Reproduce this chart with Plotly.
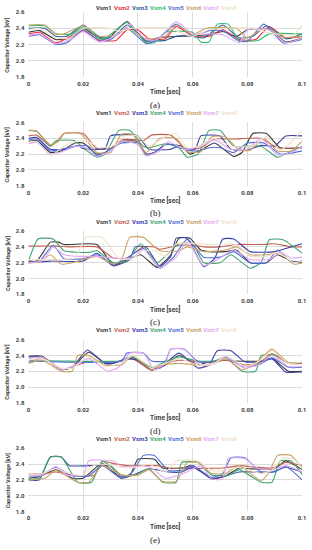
import plotly.graph_objects as go

W, H = 312, 550

names = ["Vsm1", "Vsm2", "Vsm3", "Vsm4", "Vsm5", "Vsm6", "Vsm7", "Vsm8"]
colors_a = ["#383838", "#ec2c3c", "#2e6096", "#2ebd6b", "#5b6fd0", "#c9a467", "#e2a8f5", "#efe2c8"]
colors_b = ["#383838", "#c4604f", "#3b40a8", "#40a470", "#4f6fd8", "#c9a467", "#e2a8f5", "#efe2c8"]
panel_labels = ["(a)", "(b)", "(c)", "(d)", "(e)"]
x_tickvals = [0, 0.02, 0.04, 0.06, 0.08, 0.1]
x_ticktext = ["0", "0.02", "0.04", "0.06", "0.08", "0.1"]
y_tickvals = [1.8, 2.0, 2.2, 2.4, 2.6]
y_ticktext = ["1.8", "2.0", "2.2", "2.4", "2.6"]

# ---- panel (a): (time in ms, voltage in kV)
a_vsm1 = [(0,2.35),(4,2.37),(10,2.26),(15,2.28),(20,2.40),(26,2.27),(29,2.27),(36,2.48),(43,2.23),(47,2.28),(54,2.30),(60,2.31),(66,2.32),(71,2.36),(76,2.30),(80,2.38),(88,2.39),(94,2.23),(100,2.28)]
a_vsm2 = [(0,2.33),(4,2.35),(10,2.22),(20,2.37),(26,2.25),(32,2.25),(36,2.38),(40,2.38),(44,2.27),(50,2.27),(54,2.42),(60,2.30),(66,2.30),(71,2.38),(77,2.26),(83,2.26),(88,2.42),(94,2.28),(100,2.30)]
a_vsm3 = [(0,2.40),(6,2.40),(10,2.30),(14,2.30),(20,2.44),(26,2.29),(31,2.29),(36,2.44),(43,2.25),(50,2.25),(54,2.30),(60,2.30),(64,2.28),(71,2.44),(77,2.28),(82,2.30),(87,2.43),(94,2.27),(100,2.33)]
a_vsm4 = [(0,2.43),(6,2.43),(10,2.33),(16,2.33),(20,2.42),(26,2.27),(28,2.27),(36,2.47),(43,2.22),(46,2.22),(50,2.35),(60,2.35),(63,2.23),(66,2.23),(69,2.45),(73,2.45),(77,2.25),(84,2.25),(88,2.33),(100,2.33)]
a_vsm5 = [(0,2.30),(4,2.32),(10,2.20),(14,2.22),(20,2.38),(26,2.24),(30,2.26),(36,2.40),(43,2.21),(47,2.26),(54,2.45),(60,2.31),(66,2.37),(71,2.37),(77,2.24),(80,2.24),(86,2.45),(93,2.22),(100,2.26)]
a_vsm6 = [(0,2.44),(6,2.44),(10,2.33),(13,2.33),(20,2.43),(26,2.30),(32,2.32),(36,2.40),(43,2.27),(50,2.30),(54,2.44),(60,2.32),(65,2.40),(76,2.40),(80,2.28),(86,2.40),(93,2.29),(100,2.30)]
a_vsm7 = [(0,2.31),(4,2.33),(10,2.21),(16,2.27),(20,2.36),(26,2.23),(34,2.35),(37,2.45),(43,2.26),(47,2.26),(54,2.48),(60,2.33),(66,2.33),(71,2.32),(77,2.22),(80,2.38),(88,2.38),(94,2.22),(100,2.28)]
a_vsm8 = [(0,2.38),(4,2.40),(10,2.28),(15,2.28),(20,2.40),(30,2.40),(33,2.36),(38,2.40),(52,2.40),(56,2.34),(60,2.30),(66,2.38),(73,2.40),(82,2.40),(88,2.34),(94,2.32),(97,2.32),(100,2.44)]

# ---- panel (b)
b_vsm1 = [(0,2.36),(3,2.37),(8,2.22),(12,2.24),(17,2.34),(20,2.34),(25,2.20),(28,2.22),(34,2.36),(40,2.36),(43,2.20),(46,2.22),(50,2.32),(56,2.30),(59,2.20),(63,2.25),(68,2.34),(75,2.17),(78,2.22),(82,2.46),(87,2.46),(92,2.28),(100,2.28)]
b_vsm2 = [(0,2.43),(3,2.44),(8,2.30),(11,2.38),(13,2.46),(20,2.46),(25,2.27),(30,2.27),(34,2.38),(40,2.38),(42,2.37),(45,2.44),(52,2.44),(58,2.25),(63,2.28),(68,2.39),(75,2.39),(80,2.40),(85,2.40),(91,2.28),(100,2.28)]
b_vsm3 = [(0,2.40),(3,2.41),(8,2.26),(14,2.26),(18,2.31),(20,2.27),(28,2.27),(30,2.43),(40,2.43),(44,2.26),(52,2.26),(54,2.29),(56,2.27),(61,2.27),(63,2.43),(70,2.43),(74,2.26),(81,2.26),(85,2.31),(90,2.30),(94,2.43),(100,2.43)]
b_vsm4 = [(0,2.50),(3,2.49),(8,2.30),(10,2.37),(17,2.37),(21,2.25),(25,2.16),(28,2.20),(33,2.50),(37,2.50),(42,2.30),(44,2.28),(50,2.33),(55,2.28),(58,2.16),(62,2.20),(66,2.50),(70,2.50),(75,2.30),(85,2.30),(91,2.16),(95,2.22),(100,2.30)]
b_vsm5 = [(0,2.38),(3,2.39),(8,2.24),(12,2.26),(17,2.30),(22,2.30),(25,2.18),(28,2.22),(34,2.34),(40,2.34),(43,2.18),(46,2.22),(51,2.33),(58,2.25),(62,2.24),(66,2.28),(70,2.28),(75,2.22),(80,2.34),(86,2.34),(92,2.20),(100,2.24)]
b_vsm6 = [(0,2.50),(3,2.49),(8,2.32),(11,2.36),(13,2.46),(19,2.46),(25,2.22),(30,2.22),(34,2.45),(38,2.45),(43,2.22),(48,2.40),(54,2.40),(58,2.23),(63,2.23),(67,2.42),(72,2.42),(77,2.25),(81,2.25),(86,2.40),(91,2.24),(96,2.24),(100,2.36)]
b_vsm7 = [(0,2.33),(3,2.35),(8,2.20),(13,2.24),(17,2.30),(21,2.28),(25,2.17),(30,2.24),(34,2.36),(40,2.32),(43,2.18),(48,2.24),(51,2.36),(57,2.26),(63,2.30),(68,2.38),(74,2.26),(80,2.26),(85,2.40),(91,2.19),(96,2.22),(100,2.30)]
b_vsm8 = [(0,2.35),(3,2.36),(8,2.18),(13,2.30),(17,2.36),(22,2.36),(26,2.28),(32,2.32),(35,2.43),(40,2.43),(44,2.30),(50,2.42),(54,2.46),(58,2.28),(62,2.30),(68,2.40),(74,2.30),(82,2.30),(87,2.42),(92,2.25),(96,2.35),(100,2.50)]

# ---- panel (c)
c_vsm1 = [(0,2.22),(3,2.22),(8,2.46),(11,2.46),(13,2.43),(25,2.43),(31,2.17),(35,2.22),(41,2.30),(47,2.14),(52,2.30),(55,2.51),(59,2.51),(63,2.36),(66,2.34),(72,2.34),(76,2.36),(81,2.20),(87,2.20),(91,2.30),(96,2.22),(100,2.20)]
c_vsm2 = [(0,2.41),(10,2.41),(15,2.40),(25,2.40),(31,2.26),(36,2.26),(42,2.40),(46,2.40),(48,2.37),(55,2.42),(60,2.42),(64,2.40),(70,2.40),(76,2.43),(86,2.43),(90,2.44),(96,2.40),(100,2.40)]
c_vsm3 = [(0,2.20),(8,2.22),(20,2.22),(25,2.32),(31,2.16),(37,2.24),(39,2.40),(43,2.40),(48,2.15),(52,2.28),(54,2.51),(58,2.51),(64,2.15),(68,2.25),(71,2.50),(75,2.50),(81,2.34),(90,2.34),(94,2.38),(100,2.44)]
c_vsm4 = [(0,2.22),(3.5,2.50),(9,2.50),(13,2.35),(22,2.33),(25,2.35),(31,2.20),(36,2.22),(41,2.44),(47,2.20),(50,2.28),(55,2.44),(60,2.44),(64,2.20),(70,2.20),(74,2.30),(81,2.13),(85,2.20),(88,2.49),(93,2.49),(100,2.32)]
c_vsm5 = [(0,2.20),(4,2.22),(9,2.42),(13,2.25),(20,2.25),(25,2.30),(31,2.18),(36,2.26),(42,2.38),(48,2.13),(53,2.27),(58,2.50),(64,2.27),(70,2.27),(75,2.34),(81,2.20),(87,2.20),(91,2.36),(96,2.21),(100,2.22)]
c_vsm6 = [(0,2.20),(4,2.21),(8,2.30),(12,2.18),(16,2.20),(25,2.28),(31,2.18),(34,2.24),(37,2.52),(42,2.52),(48,2.35),(55,2.35),(58,2.40),(64,2.34),(72,2.36),(76,2.40),(81,2.30),(87,2.30),(92,2.32),(97,2.18),(100,2.20)]
c_vsm7 = [(0,2.20),(5,2.22),(9,2.40),(13,2.30),(18,2.28),(25,2.28),(31,2.26),(38,2.26),(42,2.37),(48,2.14),(54,2.27),(58,2.48),(64,2.16),(70,2.26),(75,2.36),(81,2.24),(88,2.24),(92,2.33),(96,2.26),(100,2.27)]
c_vsm8 = [(0,2.24),(12,2.24),(17,2.26),(21,2.52),(27,2.52),(33,2.25),(38,2.25),(42,2.35),(46,2.35),(50,2.28),(54,2.44),(62,2.44),(66,2.43),(76,2.43),(81,2.28),(87,2.28),(91,2.33),(97,2.20),(100,2.22)]

# ---- panel (d)
d_vsm1 = [(0,2.39),(5,2.39),(12,2.22),(16,2.25),(22,2.44),(28,2.30),(31,2.30),(38,2.38),(45,2.22),(50,2.28),(55,2.40),(62,2.28),(66,2.32),(72,2.34),(75,2.33),(85,2.33),(89,2.36),(95,2.20),(100,2.20)]
d_vsm2 = [(0,2.33),(6,2.36),(12,2.22),(16,2.26),(22,2.32),(32,2.32),(38,2.36),(45,2.21),(50,2.30),(55,2.34),(62,2.32),(68,2.32),(72,2.34),(79,2.28),(84,2.30),(89,2.42),(95,2.30),(100,2.30)]
d_vsm3 = [(0,2.38),(5,2.38),(12,2.22),(16,2.25),(21.5,2.47),(28,2.30),(31,2.30),(36,2.36),(40,2.34),(45,2.22),(48,2.24),(55,2.43),(62,2.24),(66,2.28),(69,2.46),(74,2.46),(79,2.32),(85,2.32),(89,2.36),(94,2.19),(100,2.19)]
d_vsm4 = [(0,2.31),(3,2.33),(34,2.33),(38,2.38),(45,2.25),(50,2.32),(55,2.38),(62,2.33),(68,2.33),(72,2.38),(78,2.20),(83,2.20),(85,2.40),(91,2.40),(95,2.31),(100,2.31)]
d_vsm5 = [(0,2.33),(34,2.33),(36,2.43),(42,2.43),(45,2.33),(50,2.33),(52,2.48),(57,2.48),(62,2.32),(68,2.32),(72,2.38),(78,2.26),(84,2.28),(89,2.37),(95,2.25),(100,2.25)]
d_vsm6 = [(0,2.30),(5,2.34),(12,2.20),(16,2.20),(18,2.40),(22,2.40),(28,2.28),(34,2.28),(38,2.40),(45,2.22),(48,2.28),(55,2.30),(62,2.28),(68,2.30),(72,2.36),(78,2.22),(83,2.30),(89,2.48),(95,2.31),(100,2.31)]
d_vsm7 = [(0,2.36),(5,2.38),(12,2.22),(16,2.26),(22,2.36),(29,2.20),(33,2.25),(37,2.43),(42,2.43),(46,2.22),(50,2.30),(52,2.48),(57,2.48),(62,2.30),(66,2.27),(72,2.38),(79,2.24),(84,2.28),(89,2.40),(95,2.26),(100,2.26)]
d_vsm8 = [(0,2.34),(5,2.36),(12,2.24),(16,2.24),(22,2.38),(28,2.26),(34,2.30),(38,2.40),(45,2.26),(50,2.30),(55,2.36),(62,2.28),(68,2.30),(72,2.40),(79,2.26),(84,2.32),(89,2.46),(95,2.30),(100,2.32)]

# ---- panel (e)
e_vsm1 = [(0,2.22),(4,2.24),(10,2.33),(16,2.22),(20,2.22),(27,2.41),(34,2.22),(37,2.25),(40,2.46),(46,2.46),(49,2.35),(56,2.35),(60,2.38),(67,2.21),(72,2.25),(77,2.35),(81,2.34),(90,2.34),(94,2.44),(100,2.33)]
e_vsm2 = [(0,2.27),(6,2.28),(10,2.30),(16,2.26),(24,2.26),(27,2.43),(32,2.40),(36,2.38),(47,2.38),(52,2.35),(71,2.35),(77,2.38),(83,2.36),(89,2.35),(94,2.42),(100,2.38)]
e_vsm3 = [(0,2.20),(4,2.20),(8,2.49),(12,2.49),(15,2.38),(30,2.38),(34,2.24),(38,2.26),(44,2.34),(51,2.30),(56,2.30),(60,2.36),(67,2.22),(71,2.24),(77,2.30),(89,2.30),(94,2.36),(100,2.30)]
e_vsm4 = [(0,2.21),(4,2.22),(8,2.49),(12,2.49),(18,2.17),(23,2.17),(27,2.44),(34,2.26),(39,2.26),(44,2.34),(49,2.17),(54,2.17),(56,2.42),(62,2.42),(67,2.26),(73,2.26),(77,2.33),(85,2.17),(89,2.17),(92,2.44),(96,2.44),(100,2.27)]
e_vsm5 = [(0,2.24),(4,2.25),(10,2.36),(16,2.25),(22,2.25),(27,2.38),(34,2.22),(38,2.30),(42,2.51),(46,2.51),(51,2.32),(56,2.32),(60,2.38),(67,2.23),(71,2.28),(74,2.48),(79,2.48),(85,2.30),(90,2.30),(94,2.37),(100,2.20)]
e_vsm6 = [(0,2.20),(6,2.22),(10,2.32),(18,2.17),(22,2.17),(27,2.38),(34,2.26),(40,2.26),(44,2.33),(49,2.18),(54,2.18),(58,2.42),(62,2.42),(67,2.28),(72,2.28),(77,2.38),(85,2.19),(88,2.30),(91,2.51),(96,2.51),(100,2.35)]
e_vsm7 = [(0,2.25),(5,2.26),(10,2.37),(14,2.26),(20,2.26),(22,2.44),(31,2.44),(34,2.37),(44,2.37),(50,2.22),(54,2.25),(58,2.30),(63,2.38),(67,2.21),(71,2.21),(73,2.47),(79,2.47),(84,2.34),(90,2.34),(94,2.38),(100,2.30)]
e_vsm8 = [(0,2.27),(5,2.28),(10,2.34),(16,2.27),(20,2.26),(23,2.37),(27,2.40),(34,2.36),(40,2.36),(44,2.40),(50,2.30),(54,2.44),(62,2.44),(67,2.32),(72,2.32),(77,2.36),(85,2.28),(89,2.32),(93,2.48),(97,2.46),(100,2.35)]

panels = [
    [a_vsm1, a_vsm2, a_vsm3, a_vsm4, a_vsm5, a_vsm6, a_vsm7, a_vsm8],
    [b_vsm1, b_vsm2, b_vsm3, b_vsm4, b_vsm5, b_vsm6, b_vsm7, b_vsm8],
    [c_vsm1, c_vsm2, c_vsm3, c_vsm4, c_vsm5, c_vsm6, c_vsm7, c_vsm8],
    [d_vsm1, d_vsm2, d_vsm3, d_vsm4, d_vsm5, d_vsm6, d_vsm7, d_vsm8],
    [e_vsm1, e_vsm2, e_vsm3, e_vsm4, e_vsm5, e_vsm6, e_vsm7, e_vsm8],
]

# ---- layout (pixel positions)
plot_left, plot_right = 27, 306
plot_tops = [8, 120, 230, 340, 450]
plot_bottoms = [74, 184, 294, 404, 514]
legend_ys = [4, 110, 220, 329.5, 440]
time_ys = [89, 199, 309, 419, 529]
label_ys = [102, 211.5, 322.5, 433, 543]
legend_xs = [104, 122.5, 141, 159, 177, 195.5, 213.5, 231.5]

def px(x):
    return x / W

def py(y):
    return 1 - y / H

fig = go.Figure()
layout = dict(
    width=W, height=H, margin=dict(l=0, r=0, t=0, b=0),
    paper_bgcolor="white", plot_bgcolor="white", showlegend=False,
    font=dict(family="Roboto, Arial, sans-serif", color="#404040"),
)
annotations = []
tick_font = dict(family="Roboto, Arial, sans-serif", size=6, color="#404040", weight=700)

for i, series in enumerate(panels):
    xa = "x" if i == 0 else f"x{i+1}"
    ya = "y" if i == 0 else f"y{i+1}"
    cols = colors_a if i == 0 else colors_b
    for name, col, pts in zip(names, cols, series):
        fig.add_trace(go.Scatter(
            x=[p[0] / 1000 for p in pts], y=[p[1] for p in pts],
            mode="lines", name=name, xaxis=xa, yaxis=ya,
            line=dict(color=col, width=1.1, shape="spline", smoothing=0.5),
            hoverinfo="skip",
        ))
    kx = "xaxis" if i == 0 else f"xaxis{i+1}"
    ky = "yaxis" if i == 0 else f"yaxis{i+1}"
    layout[kx] = dict(
        domain=[px(plot_left), px(plot_right)], anchor=ya, range=[0, 0.1],
        tickvals=x_tickvals, ticktext=x_ticktext, tickfont=tick_font,
        showgrid=True, gridcolor="#dcdcdc", gridwidth=0.8, zeroline=False,
        showline=False, ticks="", ticklabelstandoff=2, ticklabeloverflow="allow",
    )
    layout[ky] = dict(
        domain=[py(plot_bottoms[i]), py(plot_tops[i])], anchor=xa, range=[1.8, 2.6],
        tickvals=y_tickvals, ticktext=y_ticktext, tickfont=tick_font,
        showgrid=True, gridcolor="#dcdcdc", gridwidth=0.8, zeroline=False,
        showline=False, ticks="", ticklabelstandoff=3, ticklabeloverflow="allow",
    )
    for name, col, lx in zip(names, cols, legend_xs):
        annotations.append(dict(
            x=px(lx), y=py(legend_ys[i]), xref="paper", yref="paper",
            text=name, showarrow=False, xanchor="center", yanchor="middle",
            font=dict(family="Roboto, Arial, sans-serif", size=6, color=col, weight=700),
        ))
    annotations.append(dict(
        x=px((plot_left + plot_right) / 2), y=py(time_ys[i]), xref="paper", yref="paper",
        text="Time [sec]", showarrow=False, xanchor="center", yanchor="middle",
        font=dict(family="Roboto, Arial, sans-serif", size=6.5, color="#404040", weight=700),
    ))
    annotations.append(dict(
        x=px(5.5), y=py((plot_tops[i] + plot_bottoms[i]) / 2), xref="paper", yref="paper",
        text="Capacitor Voltage [kV]", showarrow=False, textangle=-90,
        xanchor="center", yanchor="middle",
        font=dict(family="Roboto, Arial, sans-serif", size=5.5, color="#404040", weight=700),
    ))
    annotations.append(dict(
        x=px(156), y=py(label_ys[i]), xref="paper", yref="paper",
        text=panel_labels[i], showarrow=False, xanchor="center", yanchor="middle",
        font=dict(family="Liberation Serif, Times New Roman, serif", size=9, color="#222222"),
    ))

layout["annotations"] = annotations
fig.update_layout(**layout)
fig.write_html(
    "out.html",
    config={"displayModeBar": False},
    post_script="document.body.style.margin='0';document.body.style.padding='0';document.body.style.overflow='hidden';",
)
